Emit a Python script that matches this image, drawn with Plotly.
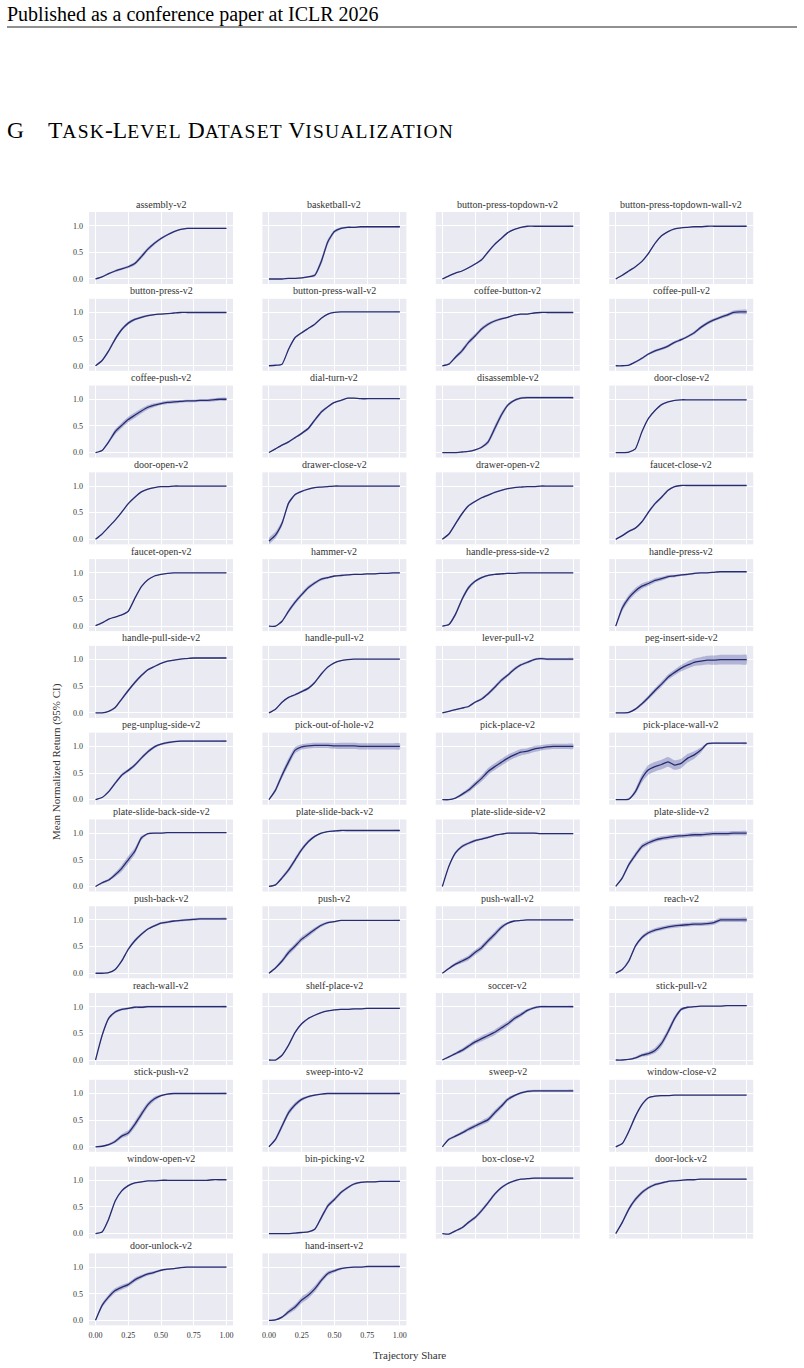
import plotly.graph_objects as go

# ---------------- data ----------------
TASKS = [
    "assembly-v2", "basketball-v2", "button-press-topdown-v2", "button-press-topdown-wall-v2",
    "button-press-v2", "button-press-wall-v2", "coffee-button-v2", "coffee-pull-v2",
    "coffee-push-v2", "dial-turn-v2", "disassemble-v2", "door-close-v2",
    "door-open-v2", "drawer-close-v2", "drawer-open-v2", "faucet-close-v2",
    "faucet-open-v2", "hammer-v2", "handle-press-side-v2", "handle-press-v2",
    "handle-pull-side-v2", "handle-pull-v2", "lever-pull-v2", "peg-insert-side-v2",
    "peg-unplug-side-v2", "pick-out-of-hole-v2", "pick-place-v2", "pick-place-wall-v2",
    "plate-slide-back-side-v2", "plate-slide-back-v2", "plate-slide-side-v2", "plate-slide-v2",
    "push-back-v2", "push-v2", "push-wall-v2", "reach-v2",
    "reach-wall-v2", "shelf-place-v2", "soccer-v2", "stick-pull-v2",
    "stick-push-v2", "sweep-into-v2", "sweep-v2", "window-close-v2",
    "window-open-v2", "bin-picking-v2", "box-close-v2", "door-lock-v2",
    "door-unlock-v2", "hand-insert-v2",
]

X_SHARE = [0.00, 0.05, 0.10, 0.15, 0.20, 0.25, 0.30, 0.35, 0.40, 0.45, 0.50,
           0.55, 0.60, 0.65, 0.70, 0.75, 0.80, 0.85, 0.90, 0.95, 1.00]

MEAN_RETURN = [
    [0.00,0.04,0.10,0.15,0.19,0.23,0.29,0.42,0.56,0.67,0.76,0.83,0.89,0.93,0.95,0.95,0.95,0.95,0.95,0.95,0.95],
    [0.00,0.00,0.00,0.01,0.01,0.02,0.04,0.07,0.33,0.70,0.89,0.95,0.97,0.97,0.98,0.98,0.98,0.98,0.98,0.98,0.98],
    [0.00,0.06,0.11,0.15,0.21,0.28,0.36,0.51,0.65,0.76,0.87,0.93,0.97,0.99,0.99,0.99,0.99,0.99,0.99,0.99,0.99],
    [0.00,0.07,0.15,0.23,0.33,0.48,0.67,0.81,0.89,0.94,0.96,0.97,0.98,0.98,0.99,0.99,0.99,0.99,0.99,0.99,0.99],
    [0.00,0.10,0.28,0.50,0.68,0.80,0.87,0.91,0.94,0.96,0.97,0.98,0.99,1.00,1.00,1.00,1.00,1.00,1.00,1.00,1.00],
    [0.00,0.01,0.03,0.31,0.53,0.62,0.70,0.78,0.89,0.97,1.00,1.01,1.01,1.01,1.01,1.01,1.01,1.01,1.01,1.01,1.01],
    [0.00,0.03,0.16,0.28,0.44,0.56,0.69,0.78,0.84,0.88,0.91,0.95,0.97,0.97,0.99,1.00,1.00,1.00,1.00,1.00,1.00],
    [0.00,0.00,0.01,0.07,0.14,0.22,0.28,0.32,0.37,0.44,0.49,0.55,0.62,0.72,0.80,0.86,0.91,0.95,1.00,1.01,1.01],
    [0.00,0.04,0.20,0.39,0.51,0.62,0.70,0.78,0.85,0.89,0.92,0.94,0.95,0.96,0.97,0.97,0.98,0.98,0.99,1.00,1.00],
    [0.00,0.07,0.14,0.20,0.28,0.36,0.45,0.61,0.76,0.86,0.94,0.98,1.02,1.02,1.01,1.01,1.01,1.01,1.01,1.01,1.01],
    [0.00,0.00,0.00,0.01,0.02,0.05,0.10,0.20,0.45,0.70,0.89,0.98,1.02,1.03,1.03,1.03,1.03,1.03,1.03,1.03,1.03],
    [0.00,0.00,0.01,0.07,0.39,0.64,0.79,0.90,0.95,0.98,0.99,0.99,0.99,0.99,0.99,0.99,0.99,0.99,0.99,0.99,0.99],
    [0.00,0.10,0.23,0.36,0.51,0.67,0.79,0.89,0.94,0.97,0.99,0.99,1.00,1.00,1.00,1.00,1.00,1.00,1.00,1.00,1.00],
    [-0.03,0.08,0.30,0.68,0.84,0.90,0.94,0.97,0.98,0.99,1.00,1.00,1.00,1.00,1.00,1.00,1.00,1.00,1.00,1.00,1.00],
    [0.00,0.10,0.29,0.48,0.63,0.71,0.78,0.83,0.88,0.92,0.95,0.97,0.98,0.99,0.99,1.00,1.00,1.00,1.00,1.00,1.00],
    [0.00,0.07,0.15,0.21,0.33,0.51,0.67,0.79,0.92,0.99,1.01,1.01,1.01,1.01,1.01,1.01,1.01,1.01,1.01,1.01,1.01],
    [0.01,0.06,0.13,0.17,0.21,0.28,0.52,0.74,0.87,0.94,0.97,0.99,1.00,1.00,1.00,1.00,1.00,1.00,1.00,1.00,1.00],
    [0.00,0.00,0.09,0.28,0.45,0.59,0.72,0.81,0.88,0.91,0.94,0.95,0.96,0.97,0.97,0.98,0.98,0.99,0.99,1.00,1.00],
    [0.00,0.03,0.22,0.50,0.72,0.84,0.91,0.95,0.97,0.98,0.99,0.99,1.00,1.00,1.00,1.00,1.00,1.00,1.00,1.00,1.00],
    [0.00,0.34,0.53,0.66,0.75,0.80,0.86,0.89,0.93,0.94,0.96,0.97,0.99,1.00,1.00,1.01,1.02,1.02,1.02,1.02,1.02],
    [0.00,0.00,0.03,0.10,0.26,0.42,0.57,0.70,0.81,0.87,0.93,0.97,0.99,1.01,1.02,1.03,1.03,1.03,1.03,1.03,1.03],
    [0.00,0.07,0.20,0.29,0.34,0.40,0.46,0.57,0.73,0.86,0.94,0.98,1.00,1.01,1.01,1.01,1.01,1.01,1.01,1.01,1.01],
    [0.00,0.03,0.06,0.09,0.12,0.20,0.26,0.36,0.48,0.61,0.71,0.82,0.90,0.95,1.00,1.02,1.01,1.01,1.01,1.01,1.01],
    [0.00,0.00,0.01,0.07,0.17,0.29,0.42,0.54,0.67,0.76,0.84,0.90,0.95,0.97,0.99,0.99,1.00,1.00,1.00,1.00,1.00],
    [0.00,0.04,0.15,0.31,0.46,0.55,0.65,0.78,0.90,0.99,1.04,1.07,1.09,1.10,1.10,1.10,1.10,1.10,1.10,1.10,1.10],
    [0.00,0.18,0.46,0.71,0.93,0.99,1.01,1.02,1.02,1.02,1.01,1.01,1.01,1.01,1.00,1.00,1.00,1.00,1.00,1.00,1.00],
    [0.00,0.00,0.03,0.10,0.18,0.29,0.40,0.53,0.62,0.70,0.78,0.84,0.89,0.91,0.95,0.97,0.99,1.00,1.00,1.00,1.00],
    [0.00,0.00,0.01,0.15,0.40,0.56,0.62,0.66,0.71,0.65,0.68,0.78,0.84,0.93,1.05,1.06,1.06,1.06,1.06,1.06,1.06],
    [0.00,0.07,0.12,0.22,0.34,0.50,0.66,0.91,0.99,1.00,1.00,1.01,1.01,1.01,1.01,1.01,1.01,1.01,1.01,1.01,1.01],
    [0.00,0.03,0.16,0.31,0.50,0.69,0.84,0.94,1.00,1.03,1.04,1.05,1.05,1.05,1.05,1.05,1.05,1.05,1.05,1.05,1.05],
    [0.00,0.38,0.63,0.75,0.81,0.86,0.89,0.92,0.96,0.98,1.00,1.00,1.00,1.00,1.00,0.99,0.99,0.99,0.99,0.99,0.99],
    [0.00,0.16,0.41,0.59,0.75,0.82,0.87,0.90,0.92,0.94,0.95,0.96,0.97,0.97,0.98,0.99,0.99,0.99,1.00,1.00,1.00],
    [0.00,0.00,0.01,0.07,0.23,0.45,0.61,0.73,0.83,0.89,0.94,0.96,0.98,0.99,1.00,1.01,1.02,1.02,1.02,1.02,1.02],
    [0.00,0.10,0.23,0.39,0.51,0.64,0.73,0.82,0.90,0.95,0.97,0.99,0.99,0.99,0.99,0.99,0.99,0.99,0.99,0.99,0.99],
    [0.00,0.09,0.17,0.23,0.29,0.39,0.48,0.61,0.73,0.86,0.94,0.98,0.99,1.00,1.00,1.00,1.00,1.00,1.00,1.00,1.00],
    [0.00,0.07,0.23,0.51,0.67,0.76,0.81,0.84,0.87,0.89,0.90,0.91,0.92,0.92,0.93,0.95,1.00,1.00,1.00,1.00,1.00],
    [0.00,0.46,0.78,0.90,0.95,0.97,0.99,0.99,1.00,1.00,1.00,1.00,1.00,1.00,1.00,1.00,1.00,1.00,1.00,1.00,1.00],
    [0.00,0.00,0.09,0.28,0.52,0.68,0.78,0.84,0.89,0.92,0.94,0.95,0.95,0.96,0.96,0.97,0.97,0.97,0.97,0.97,0.97],
    [0.00,0.06,0.12,0.18,0.26,0.34,0.40,0.46,0.52,0.60,0.68,0.78,0.85,0.93,0.98,1.00,1.00,1.00,1.00,1.00,1.00],
    [0.00,0.00,0.01,0.04,0.09,0.12,0.18,0.31,0.53,0.78,0.95,0.99,1.00,1.01,1.01,1.01,1.01,1.02,1.02,1.02,1.02],
    [0.00,0.01,0.04,0.10,0.20,0.26,0.42,0.61,0.79,0.90,0.96,0.99,1.00,1.00,1.00,1.00,1.00,1.00,1.00,1.00,1.00],
    [0.00,0.14,0.39,0.64,0.79,0.89,0.94,0.97,0.99,1.00,1.00,1.00,1.00,1.00,1.00,1.00,1.00,1.00,1.00,1.00,1.00],
    [0.00,0.14,0.20,0.26,0.33,0.39,0.45,0.51,0.64,0.76,0.89,0.96,1.01,1.04,1.05,1.05,1.05,1.05,1.05,1.05,1.05],
    [0.00,0.06,0.29,0.57,0.79,0.92,0.95,0.96,0.96,0.97,0.97,0.97,0.97,0.97,0.97,0.97,0.97,0.97,0.97,0.97,0.97],
    [0.00,0.03,0.27,0.61,0.80,0.90,0.95,0.97,0.99,0.99,1.00,1.00,1.00,1.00,1.00,1.00,1.00,1.00,1.01,1.01,1.01],
    [0.00,0.00,0.00,0.00,0.01,0.02,0.03,0.08,0.30,0.52,0.64,0.77,0.86,0.93,0.96,0.97,0.97,0.98,0.98,0.98,0.98],
    [0.00,-0.01,0.05,0.11,0.21,0.30,0.43,0.58,0.74,0.86,0.94,0.99,1.02,1.03,1.04,1.04,1.04,1.04,1.04,1.04,1.04],
    [0.00,0.21,0.46,0.64,0.77,0.86,0.92,0.95,0.98,0.99,1.00,1.01,1.01,1.02,1.02,1.02,1.02,1.02,1.02,1.02,1.02],
    [0.00,0.28,0.44,0.56,0.62,0.67,0.76,0.82,0.87,0.90,0.94,0.96,0.97,0.99,1.00,1.00,1.00,1.00,1.00,1.00,1.00],
    [0.00,0.01,0.06,0.16,0.25,0.38,0.47,0.59,0.75,0.88,0.93,0.97,0.99,1.00,1.00,1.01,1.01,1.01,1.01,1.01,1.01],
]

CI_HALF = [
    [0.01,0.01,0.015,0.02,0.02,0.025,0.03,0.04,0.035,0.03,0.025,0.02,0.015,0.01,0.01,0.01,0.01,0.01,0.01,0.01,0.01],
    [0.005,0.005,0.005,0.005,0.01,0.01,0.015,0.03,0.06,0.05,0.03,0.02,0.015,0.015,0.015,0.015,0.015,0.015,0.015,0.015,0.015],
    [0.005,0.01,0.01,0.01,0.015,0.015,0.02,0.025,0.02,0.015,0.01,0.01,0.005,0.005,0.005,0.005,0.005,0.005,0.005,0.005,0.005],
    [0.005,0.01,0.01,0.01,0.015,0.015,0.015,0.015,0.01,0.01,0.005,0.005,0.005,0.005,0.005,0.005,0.005,0.005,0.005,0.005,0.005],
    [0.005,0.02,0.03,0.035,0.03,0.03,0.025,0.02,0.015,0.01,0.01,0.01,0.005,0.005,0.005,0.005,0.005,0.005,0.005,0.005,0.005],
    [0.005,0.005,0.01,0.02,0.02,0.015,0.015,0.015,0.01,0.01,0.005,0.005,0.005,0.005,0.005,0.005,0.005,0.005,0.005,0.005,0.005],
    [0.005,0.015,0.03,0.04,0.04,0.04,0.035,0.03,0.025,0.02,0.015,0.01,0.01,0.01,0.005,0.005,0.005,0.005,0.005,0.005,0.005],
    [0.005,0.005,0.01,0.015,0.02,0.02,0.025,0.025,0.025,0.025,0.025,0.025,0.03,0.03,0.03,0.03,0.03,0.03,0.035,0.04,0.04],
    [0.005,0.01,0.03,0.05,0.05,0.05,0.05,0.045,0.04,0.035,0.03,0.03,0.03,0.025,0.025,0.025,0.025,0.025,0.03,0.03,0.03],
    [0.005,0.01,0.01,0.015,0.015,0.02,0.025,0.03,0.03,0.02,0.015,0.01,0.01,0.01,0.01,0.01,0.01,0.01,0.01,0.01,0.01],
    [0.005,0.005,0.005,0.005,0.01,0.01,0.02,0.04,0.06,0.05,0.03,0.02,0.02,0.02,0.02,0.02,0.02,0.02,0.02,0.02,0.02],
    [0.005,0.005,0.005,0.01,0.01,0.01,0.01,0.01,0.005,0.005,0.005,0.005,0.005,0.005,0.005,0.005,0.005,0.005,0.005,0.005,0.005],
    [0.005,0.01,0.01,0.01,0.015,0.015,0.015,0.01,0.01,0.005,0.005,0.005,0.005,0.005,0.005,0.005,0.005,0.005,0.005,0.005,0.005],
    [0.06,0.06,0.05,0.03,0.02,0.015,0.01,0.01,0.005,0.005,0.005,0.005,0.005,0.005,0.005,0.005,0.005,0.005,0.005,0.005,0.005],
    [0.005,0.02,0.025,0.025,0.02,0.02,0.015,0.015,0.01,0.01,0.005,0.005,0.005,0.005,0.005,0.005,0.005,0.005,0.005,0.005,0.005],
    [0.005,0.015,0.015,0.015,0.02,0.025,0.025,0.025,0.02,0.01,0.005,0.005,0.005,0.005,0.005,0.005,0.005,0.005,0.005,0.005,0.005],
    [0.005,0.005,0.005,0.005,0.005,0.01,0.01,0.01,0.005,0.005,0.005,0.005,0.005,0.005,0.005,0.005,0.005,0.005,0.005,0.005,0.005],
    [0.005,0.005,0.02,0.035,0.04,0.04,0.035,0.03,0.025,0.02,0.015,0.015,0.01,0.01,0.01,0.01,0.01,0.01,0.01,0.01,0.01],
    [0.005,0.02,0.035,0.04,0.035,0.025,0.02,0.015,0.01,0.01,0.01,0.005,0.005,0.005,0.005,0.005,0.005,0.005,0.005,0.005,0.005],
    [0.01,0.06,0.06,0.055,0.05,0.045,0.04,0.035,0.03,0.025,0.02,0.015,0.015,0.01,0.01,0.01,0.01,0.01,0.01,0.01,0.01],
    [0.005,0.005,0.01,0.02,0.025,0.03,0.03,0.025,0.02,0.015,0.01,0.01,0.01,0.01,0.01,0.01,0.01,0.01,0.01,0.01,0.01],
    [0.005,0.01,0.015,0.015,0.015,0.02,0.025,0.025,0.02,0.015,0.01,0.01,0.005,0.005,0.005,0.005,0.005,0.005,0.005,0.005,0.005],
    [0.005,0.01,0.01,0.01,0.015,0.02,0.025,0.03,0.035,0.035,0.03,0.03,0.025,0.025,0.02,0.02,0.02,0.02,0.02,0.02,0.02],
    [0.005,0.005,0.01,0.02,0.03,0.04,0.045,0.05,0.05,0.055,0.06,0.065,0.07,0.075,0.08,0.085,0.09,0.09,0.09,0.09,0.09],
    [0.005,0.01,0.02,0.025,0.03,0.03,0.03,0.03,0.03,0.025,0.02,0.02,0.015,0.015,0.015,0.015,0.015,0.015,0.015,0.015,0.015],
    [0.005,0.04,0.06,0.07,0.06,0.05,0.05,0.05,0.05,0.05,0.055,0.06,0.06,0.06,0.06,0.06,0.06,0.06,0.06,0.06,0.06],
    [0.005,0.005,0.01,0.03,0.04,0.05,0.06,0.065,0.065,0.065,0.065,0.06,0.06,0.055,0.055,0.05,0.05,0.05,0.05,0.05,0.05],
    [0.005,0.005,0.01,0.05,0.08,0.09,0.09,0.09,0.09,0.09,0.09,0.08,0.07,0.05,0.02,0.015,0.015,0.015,0.015,0.015,0.015],
    [0.01,0.02,0.025,0.04,0.06,0.07,0.06,0.04,0.015,0.01,0.01,0.01,0.01,0.01,0.01,0.01,0.01,0.01,0.01,0.01,0.01],
    [0.005,0.015,0.03,0.04,0.045,0.04,0.03,0.02,0.01,0.01,0.01,0.01,0.01,0.01,0.01,0.01,0.01,0.01,0.01,0.01,0.01],
    [0.005,0.02,0.03,0.03,0.025,0.025,0.02,0.02,0.015,0.01,0.01,0.01,0.01,0.01,0.01,0.01,0.01,0.01,0.01,0.01,0.01],
    [0.005,0.03,0.04,0.045,0.045,0.04,0.04,0.04,0.04,0.04,0.04,0.04,0.04,0.04,0.04,0.04,0.04,0.04,0.04,0.04,0.04],
    [0.005,0.005,0.01,0.015,0.025,0.03,0.03,0.025,0.02,0.02,0.02,0.02,0.02,0.02,0.02,0.02,0.02,0.02,0.02,0.02,0.02],
    [0.005,0.02,0.04,0.05,0.05,0.05,0.045,0.04,0.03,0.02,0.015,0.01,0.01,0.01,0.01,0.01,0.01,0.01,0.01,0.01,0.01],
    [0.005,0.02,0.03,0.04,0.045,0.05,0.05,0.05,0.05,0.04,0.02,0.01,0.01,0.01,0.01,0.01,0.01,0.01,0.01,0.01,0.01],
    [0.005,0.02,0.03,0.03,0.035,0.035,0.035,0.035,0.035,0.035,0.035,0.035,0.035,0.035,0.035,0.04,0.04,0.04,0.04,0.04,0.04],
    [0.005,0.03,0.03,0.025,0.02,0.02,0.02,0.02,0.02,0.02,0.02,0.02,0.02,0.02,0.02,0.02,0.02,0.02,0.02,0.02,0.02],
    [0.005,0.005,0.01,0.02,0.02,0.02,0.015,0.01,0.01,0.01,0.01,0.01,0.01,0.01,0.01,0.01,0.01,0.01,0.01,0.01,0.01],
    [0.005,0.015,0.025,0.035,0.04,0.045,0.05,0.05,0.05,0.05,0.05,0.045,0.04,0.03,0.025,0.02,0.02,0.02,0.02,0.02,0.02],
    [0.005,0.005,0.01,0.02,0.03,0.04,0.05,0.06,0.06,0.05,0.03,0.02,0.01,0.01,0.01,0.01,0.01,0.01,0.01,0.01,0.01],
    [0.005,0.01,0.02,0.03,0.04,0.05,0.06,0.06,0.05,0.04,0.02,0.015,0.01,0.01,0.01,0.01,0.01,0.01,0.01,0.01,0.01],
    [0.005,0.03,0.05,0.05,0.04,0.03,0.02,0.015,0.01,0.01,0.01,0.01,0.01,0.01,0.01,0.01,0.01,0.01,0.01,0.01,0.01],
    [0.005,0.02,0.025,0.03,0.035,0.04,0.045,0.05,0.05,0.045,0.035,0.025,0.02,0.02,0.02,0.02,0.02,0.02,0.02,0.02,0.02],
    [0.005,0.01,0.03,0.03,0.025,0.015,0.01,0.01,0.005,0.005,0.005,0.005,0.005,0.005,0.005,0.005,0.005,0.005,0.005,0.005,0.005],
    [0.005,0.01,0.025,0.025,0.02,0.015,0.01,0.01,0.005,0.005,0.005,0.005,0.005,0.005,0.005,0.005,0.005,0.005,0.005,0.005,0.005],
    [0.005,0.005,0.005,0.005,0.01,0.01,0.01,0.02,0.04,0.04,0.035,0.03,0.025,0.02,0.015,0.01,0.01,0.01,0.01,0.01,0.01],
    [0.005,0.01,0.015,0.02,0.025,0.03,0.035,0.035,0.03,0.025,0.02,0.015,0.01,0.01,0.01,0.01,0.01,0.01,0.01,0.01,0.01],
    [0.005,0.03,0.04,0.04,0.035,0.03,0.025,0.02,0.015,0.01,0.01,0.01,0.01,0.01,0.01,0.01,0.01,0.01,0.01,0.01,0.01],
    [0.01,0.04,0.045,0.045,0.045,0.04,0.04,0.035,0.03,0.025,0.02,0.015,0.01,0.01,0.01,0.01,0.01,0.01,0.01,0.01,0.01],
    [0.005,0.01,0.02,0.04,0.05,0.06,0.06,0.06,0.05,0.04,0.03,0.02,0.01,0.01,0.01,0.01,0.01,0.01,0.01,0.01,0.01],
]

X_TICKS = [0.0, 0.25, 0.5, 0.75, 1.0]
X_TICK_LABELS = ["0.00", "0.25", "0.50", "0.75", "1.00"]
Y_TICKS = [0.0, 0.5, 1.0]
Y_TICK_LABELS = ["0.0", "0.5", "1.0"]

# ---------------- styling / layout ----------------
W, H = 804, 1368
NCOLS = 4
COL_LEFT0, COL_PITCH, PANEL_W = 89.0, 173.4, 144.0
ROW_TOP0, ROW_PITCH, PANEL_H = 212.0, 86.78, 72.0
LINE_COLOR = "#272c70"
BAND_COLOR = "rgba(50,56,150,0.30)"
BG = "#EAEAF2"
SERIF = "Liberation Serif, Times New Roman, serif"
N_ROWS = (len(TASKS) + NCOLS - 1) // NCOLS

fig = go.Figure()
layout = {}
annotations = []

for i, task in enumerate(TASKS):
    r, c = divmod(i, NCOLS)
    n = i + 1
    xa = "x" if n == 1 else f"x{n}"
    ya = "y" if n == 1 else f"y{n}"
    mean = MEAN_RETURN[i]
    ci = CI_HALF[i]
    upper = [m + h for m, h in zip(mean, ci)]
    lower = [m - h for m, h in zip(mean, ci)]

    fig.add_trace(go.Scatter(
        x=X_SHARE + X_SHARE[::-1], y=upper + lower[::-1],
        fill="toself", fillcolor=BAND_COLOR, mode="lines",
        line=dict(width=0, shape="spline", smoothing=0.5),
        xaxis=xa, yaxis=ya, hoverinfo="skip", showlegend=False))
    fig.add_trace(go.Scatter(
        x=X_SHARE, y=mean, mode="lines",
        line=dict(color=LINE_COLOR, width=1.3, shape="spline", smoothing=0.5),
        xaxis=xa, yaxis=ya, name=task, showlegend=False))

    left = COL_LEFT0 + c * COL_PITCH
    top = ROW_TOP0 + r * ROW_PITCH
    xkey = "xaxis" if n == 1 else f"xaxis{n}"
    ykey = "yaxis" if n == 1 else f"yaxis{n}"
    layout[xkey] = dict(
        domain=[left / W, (left + PANEL_W) / W], anchor=ya,
        range=[-0.05, 1.05], tickvals=X_TICKS, ticktext=X_TICK_LABELS,
        showticklabels=(r == N_ROWS - 1), showgrid=True, gridcolor="white",
        gridwidth=1, zeroline=False, showline=False, ticks="",
        ticklabelstandoff=4,
        tickfont=dict(family=SERIF, size=8, color="#333333"))
    layout[ykey] = dict(
        domain=[1 - (top + PANEL_H) / H, 1 - top / H], anchor=xa,
        range=[-0.094, 1.257], tickvals=Y_TICKS, ticktext=Y_TICK_LABELS,
        showticklabels=(c == 0), showgrid=True, gridcolor="white",
        gridwidth=1, zeroline=False, showline=False, ticks="",
        ticklabelstandoff=5,
        tickfont=dict(family=SERIF, size=8, color="#333333"))
    annotations.append(dict(
        text=task, x=(left + PANEL_W / 2) / W, y=1 - (top - 8) / H,
        xref="paper", yref="paper", xanchor="center", yanchor="middle",
        showarrow=False, font=dict(family=SERIF, size=10, color="#333333")))

# axis titles
annotations.append(dict(
    text="Trajectory Share", x=410 / W, y=1 - 1355 / H, xref="paper", yref="paper",
    xanchor="center", yanchor="middle", showarrow=False,
    font=dict(family=SERIF, size=11, color="#333333")))
annotations.append(dict(
    text="Mean Normalized Return (95% CI)", x=57 / W, y=1 - 762 / H, xref="paper",
    yref="paper", xanchor="center", yanchor="middle", textangle=-90, showarrow=False,
    font=dict(family=SERIF, size=11, color="#333333")))

# page header
annotations.append(dict(
    text="Published as a conference paper at ICLR 2026", x=5 / W, y=1 - 15 / H,
    xref="paper", yref="paper", xanchor="left", yanchor="middle", showarrow=False,
    font=dict(family=SERIF, size=20, color="black")))
SC = "<span style='font-size:19.5px;letter-spacing:1.2px'>"
annotations.append(dict(
    text="G", x=5 / W, y=1 - 130 / H, xref="paper", yref="paper",
    xanchor="left", yanchor="middle", showarrow=False,
    font=dict(family=SERIF, size=23.5, color="black")))
annotations.append(dict(
    text=(f"T{SC}ASK</span>-L{SC}EVEL</span> D{SC}ATASET</span> "
          f"V{SC}ISUALIZATION</span>"),
    x=46 / W, y=1 - 130 / H, xref="paper", yref="paper",
    xanchor="left", yanchor="middle", showarrow=False,
    font=dict(family=SERIF, size=23.5, color="black")))

fig.update_layout(
    width=W, height=H, margin=dict(l=0, r=0, t=0, b=0),
    paper_bgcolor="white", plot_bgcolor=BG, showlegend=False,
    annotations=annotations,
    shapes=[dict(type="line", xref="paper", yref="paper",
                 x0=7 / W, x1=797 / W, y0=1 - 27 / H, y1=1 - 27 / H,
                 line=dict(color="#222222", width=1))],
    **layout)

fig.write_html("out.html")
